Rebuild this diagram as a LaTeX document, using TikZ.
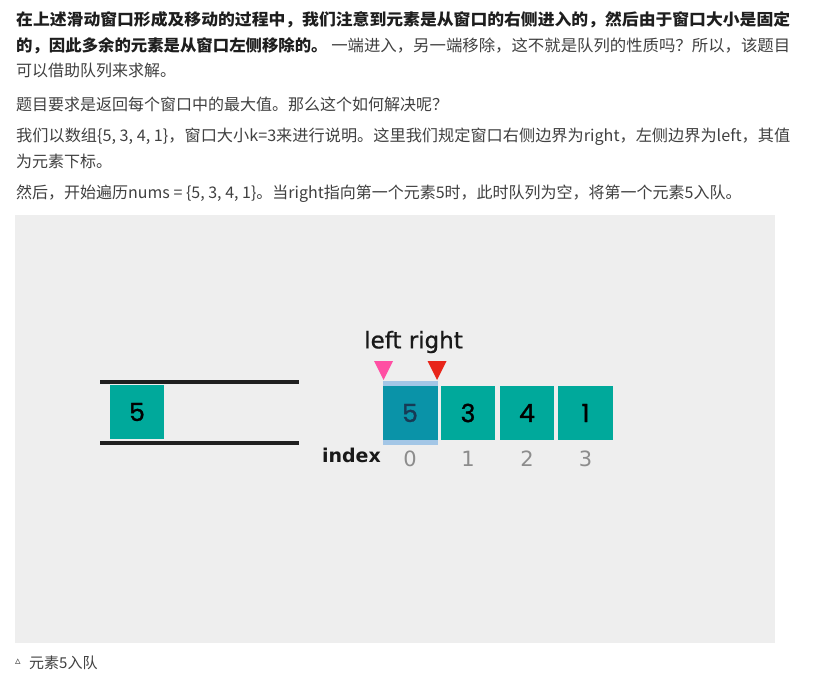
\documentclass[tikz,border=0pt]{standalone}
\usepackage{fontspec}
\usepackage{graphicx}
\setmainfont{Noto Sans CJK SC}
\newfontfamily\dejavu{DejaVu Sans}
\newfontfamily\dejavum{DejaVu Sans}[FakeBold=0.8]
\newfontfamily\popp{Poppins}[FakeBold=1.2]
\definecolor{panel}{HTML}{EEEEEE}
\definecolor{txtc}{HTML}{404040}
\definecolor{boldc}{HTML}{1E1E1E}
\definecolor{teal}{HTML}{00A99B}
\definecolor{dteal}{HTML}{0A93A8}
\definecolor{hlc}{HTML}{A3C6E6}
\definecolor{pinkc}{HTML}{FF4FA3}
\definecolor{redc}{HTML}{E8251A}
\definecolor{idxc}{HTML}{8C8C8C}
\definecolor{navyc}{HTML}{173A55}
\begin{document}
\begin{tikzpicture}[x=1pt,y=-1pt,
  txt/.style={anchor=west,inner sep=0pt,text=txtc,font=\fontsize{16}{16}\selectfont},
  box/.style={minimum width=54pt,minimum height=54pt,inner sep=0pt,fill=teal,font=\popp\fontsize{25}{25}\selectfont,text=black},
  qline/.style={line width=3.2pt,draw=black!88},
  idx/.style={inner sep=0pt,text=idxc,font=\dejavu\fontsize{21}{21}\selectfont}]
\useasboundingbox (0,0) rectangle (824,674);
\fill[white] (0,0) rectangle (824,674);
% text
\node[txt] (l1) at (16,20) {\resizebox{774pt}{\height}{\color{boldc}\bfseries 在上述滑动窗口形成及移动的过程中，我们注意到元素是从窗口的右侧进入的，然后由于窗口大小是固定}};
\node[txt] (l2) at (16,46) {\resizebox{774pt}{\height}{{\color{boldc}\bfseries 的，因此多余的元素是从窗口左侧移除的。}\ 一端进入，另一端移除，这不就是队列的性质吗？所以，该题目}};
\node[txt] (l3) at (16,70) {可以借助队列来求解。};
\node[txt] (l4) at (16,104) {题目要求是返回每个窗口中的最大值。那么这个如何解决呢？};
\node[txt] (l5) at (16,137) {\resizebox{774pt}{\height}{我们以数组\{5, 3, 4, 1\}，窗口大小k=3来进行说明。这里我们规定窗口右侧边界为right，左侧边界为left，其值}};
\node[txt] (l6) at (16,161) {为元素下标。};
\node[txt] (l7) at (16,194) {然后，开始遍历nums = \{5, 3, 4, 1\}。当right指向第一个元素5时，此时队列为空，将第一个元素5入队。};
% panel
\fill[panel] (15,215) rectangle (775,643);
% queue
\coordinate (qa) at (100,382); \coordinate (qb) at (299,382);
\coordinate (qc) at (100,443); \coordinate (qd) at (299,443);
\draw[qline] (qa) -- (qb);
\draw[qline] (qc) -- (qd);
\node[box] (q0) at (137,412) {5};
% array
\node[minimum width=55pt,minimum height=64pt,inner sep=0pt,fill=hlc] (h0) at (410,413) {};
\node[box,minimum width=55pt,fill=dteal,text=navyc] (a0) at (410,413) {5};
\node[box] (a1) at (468,413) {3};
\node[box] (a2) at (527,413) {4};
\node[box,minimum width=55pt] (a3) at (585.5,413) {1};
% pointers
\fill[pinkc] (374,361) -- (393,361) -- (383.5,380) -- cycle;
\fill[redc] (427.5,361) -- (446.5,361) -- (437,380) -- cycle;
\node[inner sep=0pt,font=\dejavum\fontsize{23}{23}\selectfont,text=black!90] (lr) at (413.5,342) {left right};
% index
\node[inner sep=0pt,anchor=east,font=\dejavu\bfseries\fontsize{19}{19}\selectfont,text=black!90] (ix) at (381,455) {index};
\node[idx] (i0) at (410,459) {0};
\node[idx] (i1) at (468,459) {1};
\node[idx] (i2) at (527,459) {2};
\node[idx] (i3) at (585.5,459) {3};
% caption
\node[inner sep=0pt,anchor=west,text=txtc,font=\dejavu\fontsize{11}{11}\selectfont] (tri) at (15,662) {▵};
\node[txt,font=\fontsize{15}{15}\selectfont] (cap) at (29,663) {元素5入队};
\end{tikzpicture}
\end{document}
